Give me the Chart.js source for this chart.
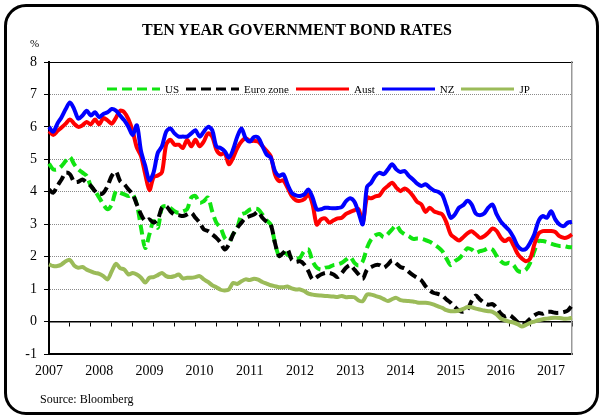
<!DOCTYPE html>
<html>
<head>
<meta charset="utf-8">
<script src="https://cdn.jsdelivr.net/npm/chart.js@4.4.1/dist/chart.umd.min.js"></script>
<style>
  html, body { margin: 0; padding: 0; background: #fff; }
  #wrap { position: relative; width: 600px; height: 416px; font-family: 'Liberation Serif', 'Times New Roman', serif; color: #000; }
  #chart { position: absolute; left: 0; top: 0; }
  .frame { position: absolute; left: 4px; top: 4px; width: 595px; height: 411px; border: 3px solid #000; border-radius: 22px; box-sizing: border-box; pointer-events: none; }
  .title { position: absolute; left: 0; top: 20px; width: 594px; text-align: center; font-weight: bold; font-size: 16px; line-height: 20px; }
  .unit { position: absolute; left: 30px; top: 37px; font-size: 11px; }
  .source { position: absolute; left: 40px; top: 392px; font-size: 12px; }
  #legend { position: absolute; left: 107px; top: 81px; display: flex; align-items: center; font-size: 11px; line-height: 16px; }
  #legend .item { display: flex; align-items: center; margin-right: 7px; }
  #legend svg { margin-right: 5px; }
</style>
</head>
<body>
<div id="wrap">
  <canvas id="chart" width="600" height="416"></canvas>
  <div class="title">TEN YEAR GOVERNMENT BOND RATES</div>
  <div class="unit">%</div>
  <div id="legend"></div>
  <div class="source">Source: Bloomberg</div>
  <div class="frame"></div>
</div>
<script>
// monthly 10y yields, Jan 2007 - Jun 2017
const startYear = 2007;
const yTicks = [-1, 0, 1, 2, 3, 4, 5, 6, 7, 8];

const us = [
  4.87, 4.69, 4.69, 4.79, 4.95, 5.07, 4.85, 4.69, 4.59, 4.49, 4.18, 4.02,
  3.82, 3.61, 3.46, 3.61, 4.02, 3.97, 3.92, 3.87, 3.92, 3.61, 2.89, 2.27,
  2.69, 3.10, 2.89, 3.51, 3.56, 3.50, 3.40, 3.35, 3.40, 3.46, 3.82, 3.87,
  3.66, 3.71, 3.82, 3.40, 3.05, 2.89, 2.58, 2.48, 2.69, 2.89, 3.30, 3.35,
  3.45, 3.48, 3.46, 3.30, 3.12, 2.99, 2.43, 2.02, 2.12, 2.07, 1.97, 1.94,
  1.97, 2.17, 2.22, 1.86, 1.66, 1.60, 1.66, 1.68, 1.74, 1.76, 1.81, 1.91,
  1.99, 1.81, 1.73, 1.86, 2.27, 2.53, 2.66, 2.70, 2.60, 2.70, 2.84, 2.97,
  2.79, 2.69, 2.63, 2.55, 2.56, 2.55, 2.51, 2.46, 2.38, 2.29, 2.17, 1.94,
  1.74, 1.86, 1.94, 2.09, 2.26, 2.22, 2.12, 2.17, 2.20, 2.26, 2.22, 2.02,
  1.86, 1.78, 1.81, 1.74, 1.57, 1.53, 1.60, 1.81, 2.17, 2.48, 2.48, 2.45,
  2.40, 2.36, 2.33, 2.33, 2.30, 2.29
];
const euro = [
  4.07, 3.97, 4.18, 4.38, 4.59, 4.54, 4.31, 4.31, 4.38, 4.28, 4.18, 4.02,
  3.92, 3.97, 4.18, 4.49, 4.62, 4.33, 4.23, 4.07, 3.92, 3.61, 3.30, 3.10,
  3.15, 3.05, 3.15, 3.51, 3.56, 3.40, 3.30, 3.28, 3.25, 3.30, 3.35, 3.20,
  3.05, 2.84, 2.79, 2.69, 2.58, 2.43, 2.22, 2.38, 2.69, 2.89, 3.05, 3.20,
  3.25, 3.30, 3.38, 3.20, 3.08, 2.99, 2.43, 2.02, 2.12, 2.22, 1.91, 1.84,
  1.86, 1.76, 1.55, 1.30, 1.37, 1.45, 1.50, 1.50, 1.45, 1.37, 1.50, 1.66,
  1.74, 1.60, 1.45, 1.32, 1.60, 1.68, 1.74, 1.74, 1.66, 1.76, 1.89, 1.79,
  1.68, 1.64, 1.53, 1.43, 1.35, 1.27, 1.09, 0.96, 0.88, 0.85, 0.80, 0.68,
  0.58, 0.45, 0.34, 0.30, 0.37, 0.63, 0.80, 0.68, 0.58, 0.52, 0.54, 0.42,
  0.24, 0.16, 0.20, 0.11, -0.02, -0.09, -0.04, 0.09, 0.19, 0.26, 0.24, 0.30,
  0.30, 0.27, 0.27, 0.29, 0.34, 0.50
];
const aust = [
  5.87, 5.75, 5.87, 5.98, 6.10, 6.23, 6.10, 6.00, 6.05, 6.15, 6.08, 6.23,
  6.08, 6.27, 6.20, 6.10, 6.28, 6.50, 6.45, 6.23, 5.87, 5.36, 5.10, 4.54,
  4.05, 4.45, 4.50, 4.60, 5.45, 5.60, 5.45, 5.45, 5.35, 5.60, 5.40, 5.60,
  5.40, 5.55, 5.80, 5.70, 5.30, 5.15, 5.20, 4.85, 5.05, 5.35, 5.55, 5.65,
  5.57, 5.57, 5.55, 5.41, 5.26, 5.10, 4.54, 4.33, 4.35, 4.13, 3.87, 3.74,
  3.72, 3.77, 3.92, 3.61, 2.99, 3.15, 3.18, 3.05, 3.12, 3.18, 3.20, 3.32,
  3.38, 3.43, 3.46, 3.05, 3.82, 3.80, 3.86, 3.89, 4.07, 4.18, 4.28, 4.13,
  4.02, 4.10, 4.02, 3.87, 3.69, 3.61, 3.38, 3.51, 3.40, 3.35, 3.30, 3.05,
  2.69, 2.58, 2.50, 2.60, 2.72, 2.78, 2.69, 2.58, 2.63, 2.74, 2.87, 2.79,
  2.58, 2.48, 2.56, 2.35, 2.09, 1.94, 1.86, 1.94, 2.38, 2.71, 2.79, 2.79,
  2.79, 2.76, 2.63, 2.58, 2.60, 2.69
];
const nz = [
  6.00, 5.85, 6.10, 6.30, 6.55, 6.75, 6.55, 6.25, 6.35, 6.50, 6.35, 6.45,
  6.30, 6.40, 6.45, 6.55, 6.50, 6.35, 6.20, 6.00, 5.75, 6.05, 5.25, 4.80,
  4.35, 4.60, 5.20, 5.40, 5.85, 5.95, 5.80, 5.70, 5.70, 5.70, 5.80, 5.90,
  5.70, 5.85, 6.00, 5.90, 5.40, 5.35, 5.25, 5.05, 5.30, 5.70, 5.95, 5.65,
  5.55, 5.69, 5.67, 5.41, 5.15, 5.05, 4.64, 4.49, 4.54, 4.23, 3.97, 3.89,
  3.87, 3.92, 4.07, 3.82, 3.46, 3.46, 3.51, 3.50, 3.49, 3.50, 3.53, 3.71,
  3.80, 3.69, 3.35, 3.00, 4.15, 4.28, 4.49, 4.59, 4.54, 4.69, 4.85, 4.69,
  4.61, 4.64, 4.49, 4.38, 4.25, 4.18, 4.23, 4.13, 4.04, 4.00, 3.90, 3.56,
  3.20, 3.30, 3.51, 3.59, 3.72, 3.61, 3.33, 3.28, 3.33, 3.51, 3.61, 3.30,
  3.08, 2.94, 2.81, 2.60, 2.33, 2.22, 2.24, 2.43, 2.69, 3.10, 3.25, 3.20,
  3.40, 3.15, 2.99, 2.94, 3.05, 3.07
];
const jp = [
  1.76, 1.71, 1.71, 1.76, 1.86, 1.90, 1.73, 1.66, 1.68, 1.60, 1.55, 1.50,
  1.47, 1.40, 1.30, 1.55, 1.78, 1.65, 1.60, 1.45, 1.50, 1.45, 1.35, 1.20,
  1.35, 1.37, 1.43, 1.50, 1.40, 1.37, 1.40, 1.45, 1.33, 1.35, 1.35, 1.37,
  1.40, 1.30, 1.22, 1.12, 1.06, 0.98, 0.96, 0.99, 1.19, 1.16, 1.24, 1.30,
  1.28, 1.32, 1.29, 1.22, 1.17, 1.12, 1.09, 1.06, 1.06, 1.08, 1.02, 0.99,
  0.99, 0.94, 0.86, 0.83, 0.81, 0.80, 0.79, 0.78, 0.77, 0.76, 0.79, 0.75,
  0.76, 0.75, 0.65, 0.63, 0.83, 0.83, 0.79, 0.75, 0.69, 0.63, 0.69, 0.73,
  0.66, 0.64, 0.63, 0.62, 0.59, 0.58, 0.58, 0.56, 0.52, 0.47, 0.42, 0.35,
  0.32, 0.32, 0.34, 0.39, 0.45, 0.44, 0.40, 0.37, 0.34, 0.32, 0.30, 0.22,
  0.09, 0.04, 0.00, -0.03, -0.08, -0.15, -0.10, -0.04, 0.00, 0.04, 0.07, 0.09,
  0.11, 0.12, 0.11, 0.09, 0.09, 0.12
];

// month labels "YYYY-MM"
const months = [];
for (let i = 0; i < us.length; i++) {
  const y = startYear + Math.floor(i / 12);
  const m = (i % 12) + 1;
  months.push(y + '-' + (m < 10 ? '0' + m : m));
}

const serif = 'Liberation Serif';
const datasets = [
  { label: 'US', data: us, borderColor: '#11e411', borderDash: [10, 5], order: 5 },
  { label: 'Euro zone', data: euro, borderColor: '#000000', borderDash: [10, 5], order: 4 },
  { label: 'Aust', data: aust, borderColor: '#ff0000', borderDash: [], order: 3 },
  { label: 'NZ', data: nz, borderColor: '#0000ff', borderDash: [], order: 2 },
  { label: 'JP', data: jp, borderColor: '#9bbb59', borderDash: [], order: 1 }
].map(d => Object.assign(d, { borderWidth: 4, pointRadius: 0, tension: 0.3, fill: false }));

const chart = new Chart(document.getElementById('chart'), {
  type: 'line',
  data: { labels: months, datasets: datasets },
  options: {
    responsive: false,
    animation: false,
    layout: { padding: { left: 9, top: 62, right: 28, bottom: 32 } },
    plugins: { legend: { display: false }, tooltip: { enabled: false } },
    scales: {
      x: {
        type: 'category',
        position: 'bottom',
        grid: { display: false, drawTicks: false },
        border: { color: '#000', width: 2 },
        ticks: {
          autoSkip: false, maxRotation: 0, minRotation: 0, padding: 9,
          color: '#000', font: { family: serif, size: 14 },
          callback: (v, i) => months[i].endsWith('-01') ? months[i].slice(0, 4) : ''
        },
        afterFit: s => { s.height = 30; }
      },
      xZero: {
        type: 'category',
        axis: 'x',
        position: { y: 0 },
        grid: {
          display: true, drawOnChartArea: false, drawTicks: true, tickLength: 4, tickWidth: 1,
          tickColor: ctx => ctx.index % 5 === 0 ? '#000' : 'rgba(0,0,0,0)'
        },
        border: { color: '#000', width: 1.5 },
        ticks: { display: false, autoSkip: false }
      },
      xTop: {
        type: 'category',
        axis: 'x',
        position: 'top',
        grid: { display: false, drawTicks: false },
        border: { color: '#000', width: 1 },
        ticks: { display: false },
        afterFit: s => { s.height = 0; }
      },
      y: {
        type: 'linear',
        min: yTicks[0],
        max: yTicks[yTicks.length - 1],
        afterBuildTicks: s => { s.ticks = yTicks.map(v => ({ value: v })); },
        grid: { color: '#8a8a8a', lineWidth: 1, tickLength: 5, tickColor: '#000', tickWidth: 1 },
        border: { color: '#000', width: 2, dash: [1, 1] },
        ticks: { padding: 7, color: '#000', font: { family: serif, size: 14 } },
        afterFit: s => { s.width = 40; }
      },
      yRight: {
        type: 'linear',
        axis: 'y',
        position: 'right',
        min: yTicks[0],
        max: yTicks[yTicks.length - 1],
        grid: { display: false, drawTicks: false },
        border: { color: '#999', width: 1.5 },
        ticks: { display: false },
        afterFit: s => { s.width = 0; }
      }
    }
  }
});

// legend drawn inside the plot, built from the datasets
const legendEl = document.getElementById('legend');
chart.data.datasets.forEach(ds => {
  const item = document.createElement('div');
  item.className = 'item';
  const dash = ds.borderDash.length ? ds.borderDash.join(' ') : 'none';
  item.innerHTML = '<svg width="53" height="4"><line x1="0" y1="2" x2="53" y2="2" stroke="' + ds.borderColor +
    '" stroke-width="3" stroke-dasharray="' + dash + '"/></svg><span>' + ds.label + '</span>';
  legendEl.appendChild(item);
});
</script>
</body>
</html>
